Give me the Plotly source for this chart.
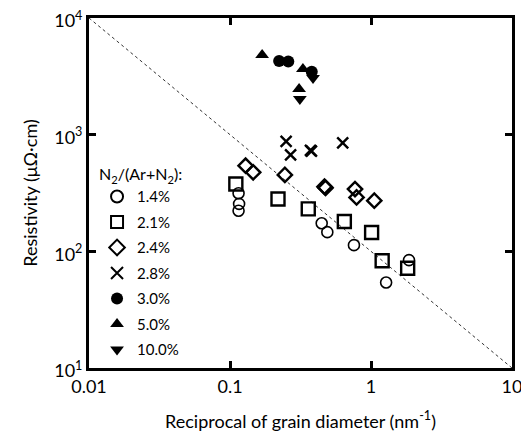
import plotly.graph_objects as go

# Data (reciprocal grain diameter nm^-1, resistivity µΩ·cm)
x_14 = [0.115, 0.116, 0.115, 0.447, 0.490, 0.757, 1.28, 1.86]
y_14 = [315, 255, 223, 174, 146, 113, 54, 84]

x_21 = [0.110, 0.219, 0.359, 0.647, 1.01, 1.20, 1.82]
y_21 = [378, 281, 231, 180, 145, 83, 71.6]

x_24 = [0.129, 0.146, 0.245, 0.468, 0.476, 0.770, 0.790, 1.055]
y_24 = [542, 476, 452, 358, 350, 342, 290, 272]

x_28 = [0.250, 0.269, 0.372, 0.378, 0.63]
y_28 = [877, 670, 733, 722, 849]

x_30 = [0.223, 0.259, 0.380]
y_30 = [4280, 4230, 3467]

x_50 = [0.169, 0.329, 0.309]
y_50 = [4820, 3656, 2464]

x_100 = [0.388, 0.313]
y_100 = [3062, 2023]

ref_x = [0.01, 10]
ref_y = [10000, 10]

x_ticks = [0.01, 0.1, 1, 10]
x_ticklabels = ["0.01", "0.1", "1", "10"]
y_ticks = [10, 100, 1000, 10000]
y_ticklabels = ["10<sup>1</sup>", "10<sup>2</sup>", "10<sup>3</sup>", "10<sup>4</sup>"]

series = [
    ("1.4%", x_14, y_14, "circle-open", 11, 1.6),
    ("2.1%", x_21, y_21, "square-open", 13, 2.4),
    ("2.4%", x_24, y_24, "diamond-open", 11, 2.4),
    ("2.8%", x_28, y_28, "x-thin-open", 11, 2.4),
    ("3.0%", x_30, y_30, "circle", 12, 0),
    ("5.0%", x_50, y_50, "triangle-up", 12, 0),
    ("10.0%", x_100, y_100, "triangle-down", 12, 0),
]

FONT = "Lato, 'Open Sans', sans-serif"

fig = go.Figure()
fig.add_trace(go.Scatter(x=ref_x, y=ref_y, mode="lines",
                         line=dict(color="#333333", width=1, dash="dot"),
                         showlegend=False, hoverinfo="skip"))

for name, xs, ys, sym, size, lw in series:
    fig.add_trace(go.Scatter(
        x=xs, y=ys, mode="markers", name=name, legendgroup=name,
        marker=dict(symbol=sym, size=size, color="black",
                    line=dict(color="black", width=lw)),
    ))

axis_common = dict(
    type="log", showgrid=False, zeroline=False,
    showline=True, linecolor="black", linewidth=3, mirror="ticks",
    ticks="inside", ticklen=7, tickwidth=2.5, tickcolor="black",
    tickfont=dict(family=FONT, size=18, color="black"),
    ticklabeloverflow="allow", automargin=False,
)

fig.update_layout(
    width=521, height=424,
    margin=dict(l=81, r=17, t=10, b=64),
    paper_bgcolor="white", plot_bgcolor="white",
    font=dict(family=FONT, size=16, color="black"),
    xaxis=dict(axis_common, range=[-2, 1],
               tickvals=x_ticks, ticktext=x_ticklabels,
               title=dict(text="Reciprocal of grain diameter (nm<sup>-1</sup>)",
                          font=dict(family=FONT, size=18), standoff=28)),
    yaxis=dict(axis_common, range=[1, 4],
               tickvals=y_ticks, ticktext=y_ticklabels,
               ticklabelshift=3,
               title=dict(text="Resistivity (μΩ·cm)",
                          font=dict(family=FONT, size=18), standoff=12)),
    legend=dict(
        x=0.019, y=0.596, xanchor="left", yanchor="top",
        bgcolor="rgba(0,0,0,0)", borderwidth=0,
        font=dict(family=FONT, size=15, color="black"),
        title=dict(text="N<sub>2</sub>/(Ar+N<sub>2</sub>):",
                   font=dict(family=FONT, size=16)),
        tracegroupgap=3, itemsizing="constant",
    ),
    showlegend=True,
)

fig.write_html("out.html")
